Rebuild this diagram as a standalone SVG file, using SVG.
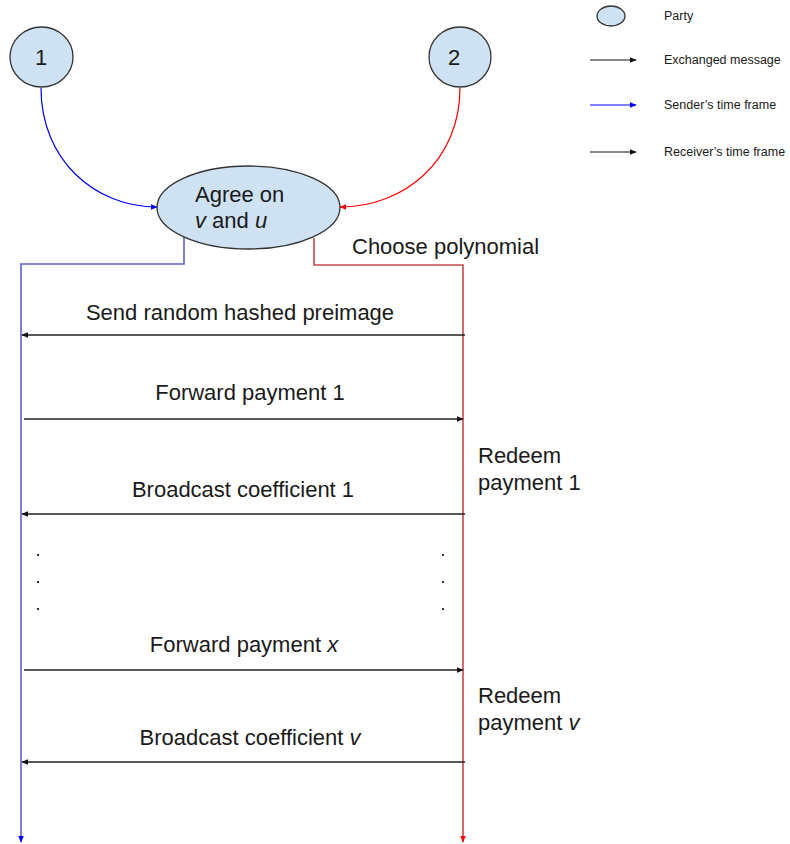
<svg xmlns="http://www.w3.org/2000/svg" width="790" height="844" viewBox="0 0 790 844">
<style>
text{font-family:"Liberation Sans",Arial,sans-serif;fill:#1a1a1a}
.t{font-size:22px}
.l{font-size:12.5px}
.node{fill:#cfe2f3;stroke:#333;stroke-width:1.3}
.msg{stroke:#222;stroke-width:1.3;fill:none}
.dot{fill:#333}
</style>
<defs>
<marker id="ak" viewBox="0 0 10 10" refX="9" refY="5" markerWidth="7" markerHeight="7" markerUnits="userSpaceOnUse" orient="auto"><path d="M0,1 L10,5 L0,9 z" fill="#111"/></marker>
<marker id="ab" viewBox="0 0 10 10" refX="9" refY="5" markerWidth="7" markerHeight="7" markerUnits="userSpaceOnUse" orient="auto"><path d="M0,1 L10,5 L0,9 z" fill="#0000ff"/></marker>
<marker id="ar" viewBox="0 0 10 10" refX="9" refY="5" markerWidth="7" markerHeight="7" markerUnits="userSpaceOnUse" orient="auto"><path d="M0,1 L10,5 L0,9 z" fill="#ff0000"/></marker>
</defs>
<g id="connectors">
<path d="M41,88 C41,160 95,207 157,207" stroke="#0000ff" stroke-width="1.2" fill="none" marker-end="url(#ab)"/>
<path d="M460,88 C460,160 405,207 340,207" stroke="#ff0000" stroke-width="1.2" fill="none" marker-end="url(#ar)"/>
<path d="M184,237 V264 H21 V842" stroke="#6060cc" stroke-width="1.6" fill="none" marker-end="url(#ab)"/>
<path d="M314,238 V265 H463 V842" stroke="#c84a4a" stroke-width="1.6" fill="none" marker-end="url(#ar)"/>
<line class="msg" x1="465" y1="335" x2="22" y2="335" marker-end="url(#ak)"/>
<line class="msg" x1="24" y1="419" x2="463" y2="419" marker-end="url(#ak)"/>
<line class="msg" x1="465" y1="514" x2="22" y2="514" marker-end="url(#ak)"/>
<line class="msg" x1="24" y1="670" x2="463" y2="670" marker-end="url(#ak)"/>
<line class="msg" x1="465" y1="762" x2="22" y2="762" marker-end="url(#ak)"/>
</g>
<g id="party1"><ellipse class="node" cx="41.5" cy="57" rx="31.5" ry="30"/><text class="t" x="35" y="65">1</text></g>
<g id="party2"><ellipse class="node" cx="460" cy="57" rx="31" ry="30"/><text class="t" x="448" y="65">2</text></g>
<g id="agree"><ellipse class="node" cx="248.5" cy="207.5" rx="91.5" ry="41.5"/>
<text class="t" x="195" y="202">Agree on</text>
<text class="t" x="195" y="228"><tspan font-style="italic">v</tspan> and <tspan font-style="italic">u</tspan></text></g>
<g id="labels">
<text class="t" x="352" y="254">Choose polynomial</text>
<text class="t" x="240" y="320" text-anchor="middle">Send random hashed preimage</text>
<text class="t" x="250" y="400" text-anchor="middle">Forward payment 1</text>
<text class="t" x="243" y="497" text-anchor="middle">Broadcast coefficient 1</text>
<text class="t" x="478" y="463">Redeem</text>
<text class="t" x="478" y="490">payment 1</text>
<text class="t" x="244" y="652" text-anchor="middle">Forward payment <tspan font-style="italic">x</tspan></text>
<text class="t" x="478" y="703">Redeem</text>
<text class="t" x="478" y="730">payment <tspan font-style="italic">v</tspan></text>
<text class="t" x="250" y="745" text-anchor="middle">Broadcast coefficient <tspan font-style="italic">v</tspan></text>
</g>
<g id="dots">
<rect class="dot" x="37" y="554" width="2" height="2"/><rect class="dot" x="37" y="581" width="2" height="2"/><rect class="dot" x="37" y="608" width="2" height="2"/>
<rect class="dot" x="442" y="554" width="2" height="2"/><rect class="dot" x="442" y="581" width="2" height="2"/><rect class="dot" x="442" y="608" width="2" height="2"/>
</g>
<g id="legend">
<ellipse class="node" cx="611" cy="16" rx="14" ry="10"/>
<text class="l" x="664" y="20">Party</text>
<line x1="590" y1="60" x2="636" y2="60" stroke="#111" stroke-width="1" marker-end="url(#ak)"/>
<text class="l" x="664" y="64">Exchanged message</text>
<line x1="590" y1="105" x2="636" y2="105" stroke="#0000ff" stroke-width="1" marker-end="url(#ab)"/>
<text class="l" x="664" y="109">Sender’s time frame</text>
<line x1="590" y1="152" x2="636" y2="152" stroke="#111" stroke-width="1" marker-end="url(#ak)"/>
<text class="l" x="664" y="156">Receiver’s time frame</text>
</g>
</svg>
